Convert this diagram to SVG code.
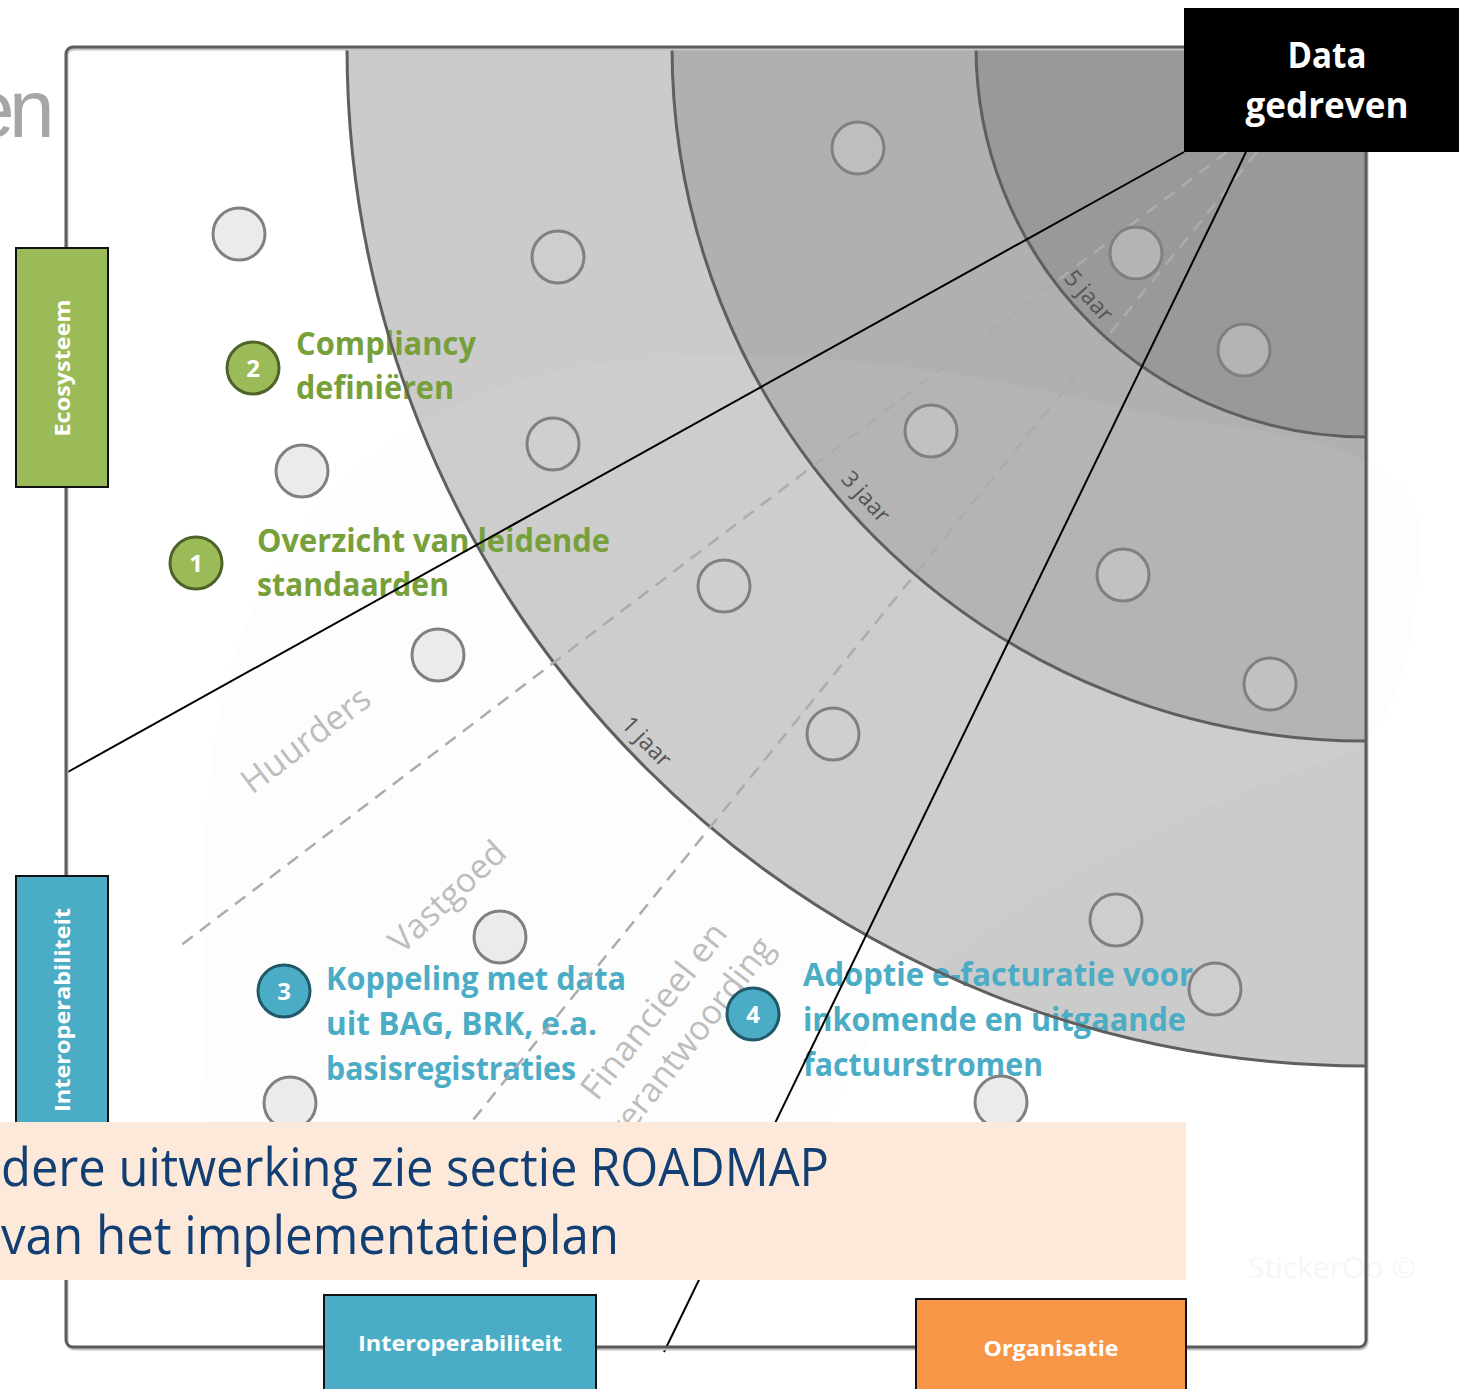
<svg xmlns="http://www.w3.org/2000/svg" width="1459" height="1389" viewBox="0 0 1459 1389">
<defs>
<style>
.ring{stroke:none}
.arc{fill:none;stroke:#5f5f5f;stroke-width:3}
.dash{fill:none;stroke:#acacac;stroke-width:2.5;stroke-dasharray:13 9}
.axis{fill:none;stroke:#000;stroke-width:2}
.dot{stroke:#808080;stroke-width:3}
.dw{fill:#ebebeb}
.d1{fill:#fff;fill-opacity:0.06}
.d2{fill:#fff;fill-opacity:0.18}
.d3{fill:#fff;fill-opacity:0.27}
.f{font-family:"Open Sans","Liberation Sans",sans-serif}
.g{fill:#77a03b;font-weight:700;font-size:32px}
.b{fill:#4bacc6;font-weight:700;font-size:32px}
.num{fill:#fff;font-weight:700;font-size:24px;text-anchor:middle}
.sect{fill:#bdbdbd;font-size:34px}
.yr{fill:#555;font-size:23px;text-anchor:middle}
.lab{fill:#fff;font-weight:700;font-size:22px;text-anchor:middle}
.box{stroke:#111;stroke-width:2}
</style>
</defs>
<rect width="1459" height="1389" fill="#fff"/>
<text x="-31 9" y="137" font-size="82" fill="#a6a6a6" font-family="Liberation Sans, sans-serif">en</text>

<!-- rings -->
<g id="rings">
<path class="ring" d="M1366 47 L347 47 A1019 1019 0 0 0 1366 1066 Z" fill="#cbcbcb"/>
<path class="ring" d="M1366 47 L672 47 A694 694 0 0 0 1366 741 Z" fill="#b0b0b0"/>
<path class="ring" d="M1366 47 L976 47 A390 390 0 0 0 1366 437 Z" fill="#999999"/>
</g>

<!-- faint watermark -->
<path d="M215 1280 C200 1000 190 760 240 640 C300 480 430 400 560 370 C800 330 1000 380 1180 420 C1380 440 1430 480 1420 560 C1410 680 1390 740 1330 760 C1200 800 1000 900 900 1000 C820 1100 800 1200 800 1280 Z" fill="#e4e4e4" opacity="0.08"/>
<text class="f" x="1248" y="1278" font-size="30" fill="#f6f6f6">StickerOo ©</text>

<!-- sector labels -->
<g id="sector-labels" class="f">
<text class="sect" transform="translate(252 795) rotate(-37)" textLength="152" lengthAdjust="spacingAndGlyphs">Huurders</text>
<text class="sect" transform="translate(402 955) rotate(-43)" textLength="146" lengthAdjust="spacingAndGlyphs">Vastgoed</text>
<text class="sect" text-anchor="middle" transform="translate(663 1018) rotate(-52)" textLength="214" lengthAdjust="spacingAndGlyphs">Financieel en</text>
<text class="sect" text-anchor="middle" transform="translate(699 1046) rotate(-52)" textLength="248" lengthAdjust="spacingAndGlyphs">verantwoording</text>
</g>

<!-- items text -->
<g id="item-1">
<circle cx="196" cy="563" r="26" fill="#9bbb59" stroke="#4f6228" stroke-width="3"/>
<text class="f num" x="196" y="572">1</text>
<text class="f g" x="257" y="552" textLength="353" lengthAdjust="spacingAndGlyphs">Overzicht van leidende</text>
<text class="f g" x="257" y="596" textLength="192" lengthAdjust="spacingAndGlyphs">standaarden</text>
</g>
<g id="item-2">
<circle cx="253" cy="368" r="26" fill="#9bbb59" stroke="#4f6228" stroke-width="3"/>
<text class="f num" x="253" y="377">2</text>
<text class="f g" x="296" y="355" textLength="180" lengthAdjust="spacingAndGlyphs">Compliancy</text>
<text class="f g" x="296" y="399" textLength="158" lengthAdjust="spacingAndGlyphs">definiëren</text>
</g>
<g id="item-3">
<circle cx="284" cy="991" r="26" fill="#4bacc6" stroke="#215968" stroke-width="3"/>
<text class="f num" x="284" y="1000">3</text>
<text class="f b" x="326" y="990" textLength="300" lengthAdjust="spacingAndGlyphs">Koppeling met data</text>
<text class="f b" x="326" y="1035" textLength="271" lengthAdjust="spacingAndGlyphs">uit BAG, BRK, e.a.</text>
<text class="f b" x="326" y="1080" textLength="250" lengthAdjust="spacingAndGlyphs">basisregistraties</text>
</g>
<g id="item-4">
<circle cx="753" cy="1014" r="26" fill="#4bacc6" stroke="#215968" stroke-width="3"/>
<text class="f num" x="753" y="1023">4</text>
<text class="f b" x="803" y="986" textLength="390" lengthAdjust="spacingAndGlyphs">Adoptie e-facturatie voor</text>
<text class="f b" x="803" y="1031" textLength="383" lengthAdjust="spacingAndGlyphs">inkomende en uitgaande</text>
<text class="f b" x="803" y="1076" textLength="240" lengthAdjust="spacingAndGlyphs">factuurstromen</text>
</g>

<!-- connectors -->
<g id="connectors">
<path class="arc" d="M347 47 A1019 1019 0 0 0 1368 1066"/>
<path class="arc" d="M672 47 A694 694 0 0 0 1368 741"/>
<path class="arc" d="M976 47 A390 390 0 0 0 1368 437"/>
<line class="dash" x1="1227" y1="152" x2="180" y2="946"/>
<line class="dash" x1="1257" y1="152" x2="452" y2="1146"/>
<line class="axis" x1="1184" y1="152" x2="66" y2="773"/>
<line class="axis" x1="1246" y1="152" x2="664" y2="1352"/>
</g>

<g id="year-labels" class="f">
<text class="yr" transform="translate(641 747) rotate(46)">1 jaar</text>
<text class="yr" transform="translate(860 502) rotate(48)">3 jaar</text>
<text class="yr" transform="translate(1083 301) rotate(48)">5 jaar</text>
</g>

<!-- empty markers -->
<g id="markers">
<circle class="dot dw" cx="239" cy="234" r="26"/>
<circle class="dot dw" cx="302" cy="471" r="26"/>
<circle class="dot dw" cx="438" cy="655" r="26"/>
<circle class="dot dw" cx="500" cy="937" r="26"/>
<circle class="dot dw" cx="290" cy="1103" r="26"/>
<circle class="dot dw" cx="1001" cy="1102" r="26"/>
<circle class="dot d1" cx="558" cy="257" r="26"/>
<circle class="dot d1" cx="553" cy="444" r="26"/>
<circle class="dot d1" cx="724" cy="586" r="26"/>
<circle class="dot d1" cx="833" cy="734" r="26"/>
<circle class="dot d1" cx="1116" cy="920" r="26"/>
<circle class="dot d1" cx="1215" cy="989" r="26"/>
<circle class="dot d2" cx="858" cy="148" r="26"/>
<circle class="dot d2" cx="931" cy="431" r="26"/>
<circle class="dot d2" cx="1123" cy="575" r="26"/>
<circle class="dot d2" cx="1270" cy="684" r="26"/>
<circle class="dot d3" cx="1136" cy="253" r="26"/>
<circle class="dot d3" cx="1244" cy="350" r="26"/>
</g>

<!-- frame -->
<g id="frame">
<rect x="67" y="49" width="1300" height="1300" rx="7" fill="none" stroke="#c4c4c4" stroke-width="3"/>
<rect x="66" y="47" width="1300" height="1300" rx="7" fill="none" stroke="#5b5b5b" stroke-width="3"/>
</g>

<!-- side labels -->
<g id="ecosysteem">
<rect class="box" x="16" y="248" width="92" height="239" fill="#9bbb59"/>
<text class="f lab" transform="translate(70 368) rotate(-90)" textLength="137" lengthAdjust="spacingAndGlyphs">Ecosysteem</text>
</g>
<g id="interoperabiliteit-left">
<rect class="box" x="16" y="876" width="92" height="300" fill="#4bacc6"/>
<text class="f lab" transform="translate(70 1010) rotate(-90)" textLength="204" lengthAdjust="spacingAndGlyphs">Interoperabiliteit</text>
</g>
<g id="interoperabiliteit-bottom">
<rect class="box" x="324" y="1295" width="272" height="100" fill="#4bacc6"/>
<text class="f lab" x="460" y="1351" textLength="204" lengthAdjust="spacingAndGlyphs">Interoperabiliteit</text>
</g>
<g id="organisatie">
<rect class="box" x="916" y="1299" width="270" height="100" fill="#f79646"/>
<text class="f lab" x="1051" y="1356" textLength="135" lengthAdjust="spacingAndGlyphs">Organisatie</text>
</g>

<g id="data-gedreven">
<rect x="1184" y="8" width="280" height="144" fill="#000"/>
<text class="f" x="1327" y="68" font-size="35" font-weight="700" fill="#fff" text-anchor="middle" textLength="79" lengthAdjust="spacingAndGlyphs">Data</text>
<text class="f" x="1327" y="118" font-size="35" font-weight="700" fill="#fff" text-anchor="middle" textLength="163" lengthAdjust="spacingAndGlyphs">gedreven</text>
</g>

<g id="note">
<rect x="0" y="1122" width="1186" height="158" fill="#fde9d9"/>
<text class="f" x="1" y="1186" font-size="53" fill="#123f73" textLength="828" lengthAdjust="spacingAndGlyphs">dere uitwerking zie sectie ROADMAP</text>
<text class="f" x="1" y="1254" font-size="53" fill="#123f73" textLength="618" lengthAdjust="spacingAndGlyphs">van het implementatieplan</text>
</g>
</svg>
